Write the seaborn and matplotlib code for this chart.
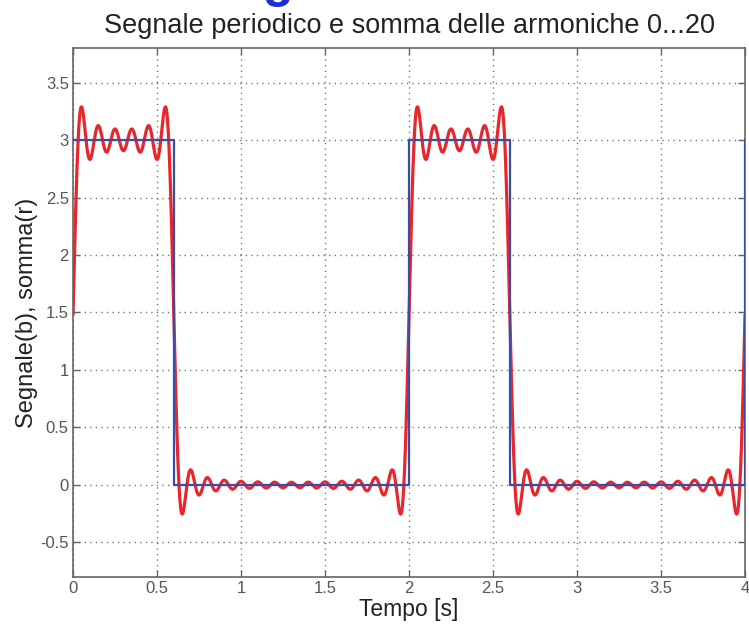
import numpy as np
import pandas as pd
import matplotlib
matplotlib.use("Agg")
import matplotlib.pyplot as plt
import seaborn as sns

# ---- data ----
period = 2.0          # s
on_time = 0.6         # s
high_level = 3.0
n_harmonics = 20      # harmonics 0...20
signal_t = [0.0, 0.6, 0.6, 2.0, 2.0, 2.6, 2.6, 4.0, 4.0]
signal_v = [3.0, 3.0, 0.0, 0.0, 3.0, 3.0, 0.0, 0.0, 3.0]
x_ticks = [0, 0.5, 1, 1.5, 2, 2.5, 3, 3.5, 4]
x_tick_labels = ["0", "0.5", "1", "1.5", "2", "2.5", "3", "3.5", "4"]
y_ticks = [-0.5, 0, 0.5, 1, 1.5, 2, 2.5, 3, 3.5]
y_tick_labels = ["-0.5", "0", "0.5", "1", "1.5", "2", "2.5", "3", "3.5"]
title = "Segnale periodico e somma delle armoniche 0...20"
xlabel = "Tempo [s]"
ylabel = "Segnale(b), somma(r)"
heading_fragment = "g"

# ---- partial Fourier sum derived from the sampled square wave ----
N = 8000
tp = np.arange(N) * period / N
samp = np.interp(tp, signal_t[:4], signal_v[:4])
samp[tp >= on_time] = 0.0
samp[0] = high_level / 2
spec = np.fft.rfft(samp)
t_sum = np.linspace(0, 4, 4001)
k = np.arange(n_harmonics + 1)
coef = spec[:n_harmonics + 1] / N
w = 2 * np.pi / period
r = np.real(coef[0]) + 2 * np.sum(
    np.real(coef[1:, None] * np.exp(1j * w * k[1:, None] * t_sum[None, :])), axis=0)

df_sig = pd.DataFrame({"t": signal_t, "v": signal_v})
df_sum = pd.DataFrame({"t": t_sum, "v": r})

sns.set_style("white")
plt.rcParams["font.family"] = ["Liberation Sans", "DejaVu Sans"]

fig = plt.figure(figsize=(7.49, 6.26), dpi=100)
ax = fig.add_axes([0.0975, 0.0783, 0.8972, 0.845])

sns.lineplot(data=df_sum, x="t", y="v", ax=ax, color="#e8262c", lw=2.3,
             estimator=None, sort=False, zorder=3)
sns.lineplot(data=df_sig, x="t", y="v", ax=ax, color="#3b4ca5", lw=1.6,
             estimator=None, sort=False, zorder=4)

ax.set_xlim(0, 4)
ax.set_ylim(-0.8, 3.8)
ax.set_xticks(x_ticks)
ax.set_xticklabels(x_tick_labels)
ax.set_yticks(y_ticks)
ax.set_yticklabels(y_tick_labels)
ax.grid(True, linestyle=(0, (1, 3)), color="#777777", lw=1.0)
for s in ax.spines.values():
    s.set_color("#666666")
    s.set_linewidth(1.2)
ax.tick_params(direction="in", length=5, width=1, colors="#666666",
               labelcolor="#555555", labelsize=12, top=True, right=True,
               bottom=True, left=True, pad=3)
ax.set_title(title, fontsize=19.5, color="#222222", pad=11)
ax.set_xlabel(xlabel, fontsize=16.5, color="#222222", labelpad=1)
ax.set_ylabel(ylabel, fontsize=17, color="#222222", labelpad=2)

# fragment of a slide heading cut by the top edge (as in the reference)
fig.text(278 / 749, 1 + 3 / 626, heading_fragment, fontsize=36, color="#1a2fd0",
         ha="center", va="baseline", fontweight="bold")

fig.savefig("out.png", dpi=100)
